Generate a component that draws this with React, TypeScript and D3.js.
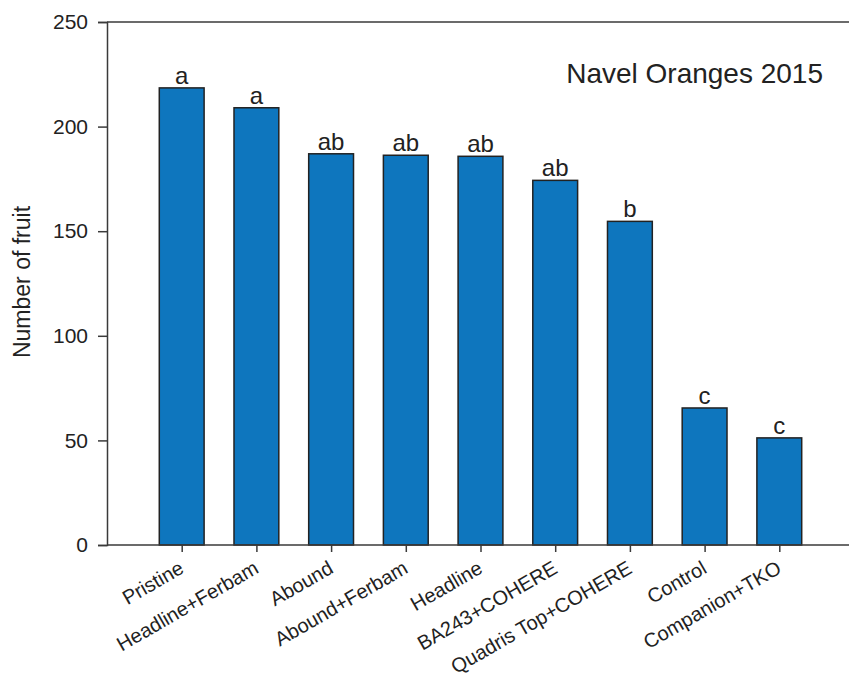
import React, { useEffect, useRef } from 'react';
import * as d3 from 'd3';

const treatments = ['Pristine', 'Headline+Ferbam', 'Abound', 'Abound+Ferbam', 'Headline', 'BA243+COHERE', 'Quadris Top+COHERE', 'Control', 'Companion+TKO'];
const fruitCounts = [218.5, 209, 187, 186.3, 185.8, 174.3, 154.7, 65.5, 51.2];
const letters = ['a', 'a', 'ab', 'ab', 'ab', 'ab', 'b', 'c', 'c'];
const yTicks = [0, 50, 100, 150, 200, 250];

function App() {
  const ref = useRef<SVGSVGElement>(null);

  useEffect(() => {
    const svg = d3.select(ref.current);
    svg.selectAll('*').remove();

    const left = 107, top = 22, bottom = 545;
    const font = 'Liberation Sans, Arial, sans-serif';
    const axisColor = '#3a3a3a';

    // bars sit at 1..9 on a 0..10 axis, like sigmaplot does it
    const x = d3.scaleLinear().domain([0, 10]).range([left, left + 747]);
    const y = d3.scaleLinear().domain([0, 250]).range([bottom, top]);
    const barW = x(0.6) - x(0);

    const data = treatments.map((t, i) => ({ name: t, value: fruitCounts[i], letter: letters[i], pos: i + 1 }));

    // top frame line
    svg.append('line').attr('x1', left).attr('x2', 849).attr('y1', top).attr('y2', top)
      .attr('stroke', axisColor).attr('stroke-width', 1.5);

    svg.append('g')
      .selectAll('rect')
      .data(data)
      .enter().append('rect')
      .attr('x', d => x(d.pos) - barW / 2)
      .attr('y', d => y(d.value))
      .attr('width', barW)
      .attr('height', d => bottom - y(d.value))
      .attr('fill', '#0e76be')
      .attr('stroke', '#222')
      .attr('stroke-width', 1.5);

    // letters above bars
    svg.append('g')
      .selectAll('text')
      .data(data)
      .enter().append('text')
      .attr('x', d => x(d.pos))
      .attr('y', d => y(d.value) - 4)
      .attr('text-anchor', 'middle')
      .attr('font-family', font)
      .attr('font-size', 24)
      .attr('fill', '#222')
      .text(d => d.letter);

    // Y axis
    const yAxis = svg.append('g')
      .attr('transform', `translate(${left},0)`)
      .call(d3.axisLeft(y).tickValues(yTicks).tickSize(9).tickPadding(10));
    yAxis.select('.domain').attr('stroke', axisColor).attr('stroke-width', 1.5);
    yAxis.selectAll('line').attr('stroke', axisColor).attr('stroke-width', 1.5);
    yAxis.selectAll('text').attr('font-family', font).attr('font-size', 21).attr('fill', '#222');

    // X axis
    const xAxis = svg.append('g')
      .attr('transform', `translate(0,${bottom})`)
      .call(d3.axisBottom(x).tickValues(data.map(d => d.pos)).tickSizeInner(7).tickSizeOuter(0)
        .tickFormat((d, i) => treatments[i]));
    xAxis.select('.domain').attr('stroke', axisColor).attr('stroke-width', 1.5)
      .attr('d', `M${left},0H849`);
    xAxis.selectAll('line').attr('stroke', axisColor).attr('stroke-width', 1.5);
    xAxis.selectAll('text')
      .attr('font-family', font)
      .attr('font-size', 20)
      .attr('fill', '#222')
      .attr('text-anchor', 'end')
      .attr('dy', 0)
      .attr('y', 0)
      .attr('transform', 'translate(3,27) rotate(-30)');

    svg.append('text')
      .attr('transform', `translate(30,282) rotate(-90)`)
      .attr('text-anchor', 'middle')
      .attr('font-family', font)
      .attr('font-size', 23)
      .attr('fill', '#222')
      .text('Number of fruit');

    svg.append('text')
      .attr('x', 823)
      .attr('y', 83)
      .attr('text-anchor', 'end')
      .attr('font-family', font)
      .attr('font-size', 28)
      .attr('fill', '#222')
      .text('Navel Oranges 2015');
  }, []);

  return (
    <svg ref={ref} width={849} height={677} style={{ position: 'absolute', left: 0, top: 0, background: '#fff' }}></svg>
  );
}

export default App;
